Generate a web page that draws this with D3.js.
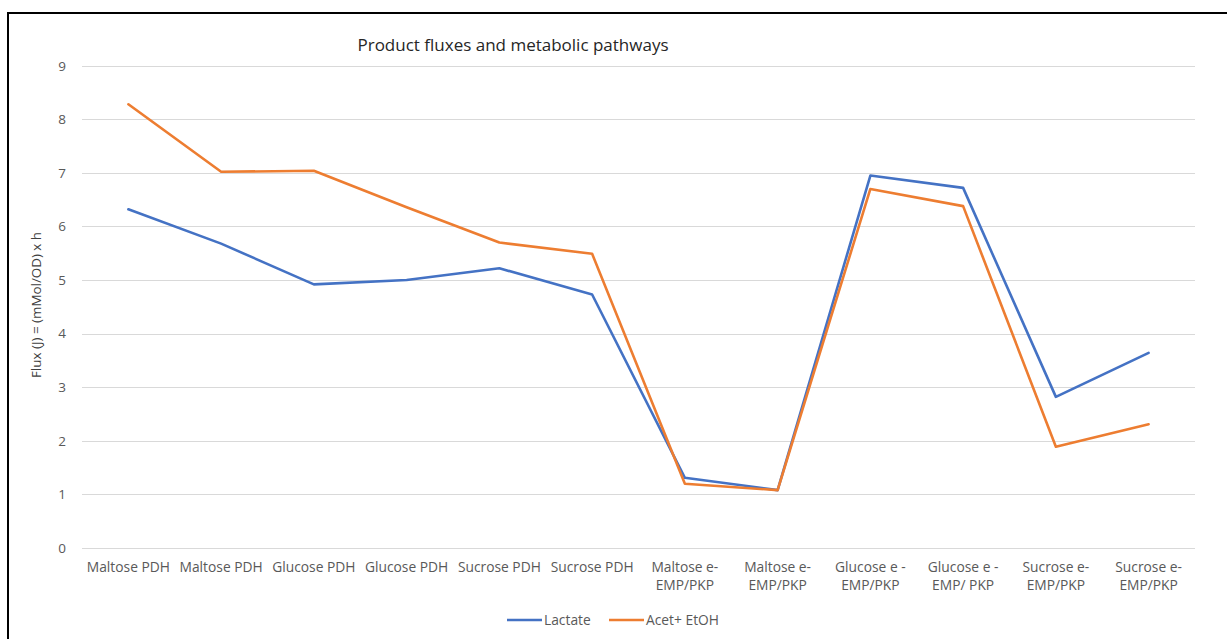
<!DOCTYPE html>
<html>
<head>
<meta charset="utf-8">
<script src="https://cdn.jsdelivr.net/npm/d3@7"></script>
<style>
  html, body { margin: 0; padding: 0; background: #ffffff; }
  svg { display: block; }
  text { font-family: "Open Sans", "Noto Sans", sans-serif; }
</style>
</head>
<body>
<svg id="chart" width="1227" height="639"></svg>
<script>
// Categories (line breaks mark where a label wraps)
const categories = [
  "Maltose PDH", "Maltose PDH", "Glucose PDH", "Glucose PDH",
  "Sucrose PDH", "Sucrose PDH",
  "Maltose e-\nEMP/PKP", "Maltose e-\nEMP/PKP",
  "Glucose e -\nEMP/PKP", "Glucose e -\nEMP/ PKP",
  "Sucrose e-\nEMP/PKP", "Sucrose e-\nEMP/PKP"
];
const lactate = [6.32, 5.68, 4.92, 5.00, 5.22, 4.73, 1.31, 1.08, 6.95, 6.72, 2.82, 3.64];
const acetEtoh = [8.28, 7.02, 7.04, 6.36, 5.70, 5.49, 1.20, 1.08, 6.70, 6.38, 1.89, 2.31];
const yTicks = [0, 1, 2, 3, 4, 5, 6, 7, 8, 9];
const seriesNames = ["Lactate", "Acet+ EtOH"];
const seriesColors = ["#4472C4", "#ED7D31"];
const chartTitle = "Product fluxes and metabolic pathways";
const yAxisTitle = "Flux (J) = (mMol/OD) x h";

const svg = d3.select("#chart");

// Outer frame
svg.append("rect")
  .attr("x", 8).attr("y", 13)
  .attr("width", 1240).attr("height", 660)
  .attr("fill", "none").attr("stroke", "#000").attr("stroke-width", 2);

const plot = { left: 82, right: 1195, top: 65.7, bottom: 548 };

const x = d3.scaleBand()
  .domain(d3.range(categories.length))
  .range([plot.left, plot.right]);

const y = d3.scaleLinear()
  .domain([0, 9])
  .range([plot.bottom, plot.top]);

// Horizontal gridlines
svg.append("g")
  .selectAll("line")
  .data(yTicks)
  .join("line")
  .attr("x1", plot.left).attr("x2", plot.right)
  .attr("y1", d => Math.round(y(d)) + 0.5).attr("y2", d => Math.round(y(d)) + 0.5)
  .attr("stroke", "#d9d9d9").attr("stroke-width", 1);

// Y axis tick labels
const yAxis = d3.axisLeft(y).tickValues(yTicks).tickSize(0).tickPadding(0).tickFormat(d3.format("d"));
const yG = svg.append("g")
  .attr("transform", `translate(${plot.left - 16},0)`)
  .call(yAxis);
yG.select(".domain").remove();
yG.selectAll("text")
  .attr("fill", "#595959")
  .style("font-size", "13.5px");

// X axis category labels
const xAxis = d3.axisBottom(x).tickSize(0).tickPadding(0).tickFormat(() => "");
const xG = svg.append("g")
  .attr("transform", `translate(0,${plot.bottom})`)
  .call(xAxis);
xG.select(".domain").remove();
xG.selectAll(".tick text").each(function(d) {
  const t = d3.select(this)
    .attr("fill", "#595959")
    .attr("y", 0)
    .attr("dy", null)
    .style("font-size", "13.8px");
  const lines = categories[d].split("\n");
  lines.forEach((ln, i) => {
    t.append("tspan")
      .attr("x", 0)
      .attr("y", 24 + i * 18)
      .text(ln);
  });
});

// Series lines
const line = d3.line()
  .x((d, i) => x(i) + x.bandwidth() / 2)
  .y(d => y(d));

[lactate, acetEtoh].forEach((vals, k) => {
  svg.append("path")
    .datum(vals)
    .attr("d", line)
    .attr("fill", "none")
    .attr("stroke", seriesColors[k])
    .attr("stroke-width", 2.6)
    .attr("stroke-linejoin", "round")
    .attr("stroke-linecap", "round");
});

// Title
svg.append("text")
  .attr("x", 513).attr("y", 51)
  .attr("text-anchor", "middle")
  .attr("fill", "#262626")
  .style("font-size", "17px")
  .text(chartTitle);

// Y axis title
svg.append("text")
  .attr("transform", `translate(41,${305}) rotate(-90)`)
  .attr("text-anchor", "middle")
  .attr("fill", "#404040")
  .style("font-size", "13.4px")
  .text(yAxisTitle);

// Legend
const legendItems = [
  { x0: 507, name: seriesNames[0], color: seriesColors[0] },
  { x0: 609, name: seriesNames[1], color: seriesColors[1] }
];
const lg = svg.append("g");
legendItems.forEach(it => {
  lg.append("line")
    .attr("x1", it.x0).attr("x2", it.x0 + 35)
    .attr("y1", 620).attr("y2", 620)
    .attr("stroke", it.color).attr("stroke-width", 2.6);
  lg.append("text")
    .attr("x", it.x0 + 37).attr("y", 625)
    .attr("fill", "#595959")
    .style("font-size", "13.8px")
    .text(it.name);
});
</script>
</body>
</html>
